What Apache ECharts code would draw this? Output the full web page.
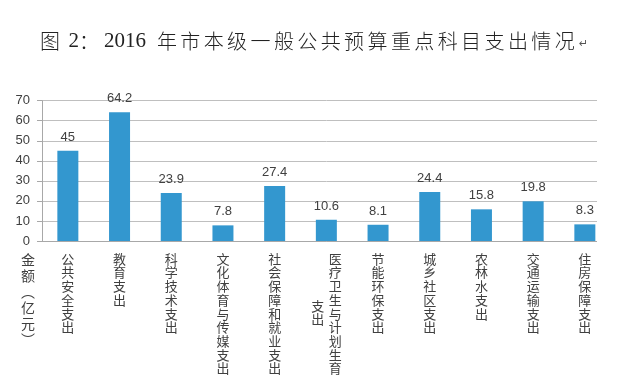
<!DOCTYPE html>
<html><head><meta charset="utf-8">
<script src="https://cdn.jsdelivr.net/npm/echarts@6/dist/echarts.min.js"></script>
<style>html,body{margin:0;padding:0;background:#fff}#c{width:620px;height:392px}</style>
</head><body><div id="c"></div>
<script>
const titleText = '图 2：2016 年市本级一般公共预算重点科目支出情况';
const categories = ['公共安全支出', '教育支出', '科学技术支出', '文化体育与传媒支出', '社会保障和就业支出',
  '医疗卫生与计划生育支出', '节能环保支出', '城乡社区支出', '农林水支出', '交通运输支出', '住房保障支出'];
const values = [45, 64.2, 23.9, 7.8, 27.4, 10.6, 8.1, 24.4, 15.8, 19.8, 8.3];
const yMin = 0, yMax = 70, yInterval = 10;
const yName = ['金', '额', '︵', '亿', '元', '︶'];
const MAXCOL = 9;

function buildTitle(t) {
  let out = '';
  let i = 0;
  while (i < t.length) {
    const ch = t[i];
    if (/[0-9]/.test(ch)) {
      let j = i; while (j < t.length && /[0-9]/.test(t[j])) j++;
      out += '{d|' + t.slice(i, j) + '}';
      i = j; continue;
    }
    if (ch === ' ') {
      out += /[0-9]/.test(t[i - 1]) ? '{sb| }' : '{sa| }';
    } else if (ch === '：') {
      out += '{p|：}';
    } else {
      out += '{c|' + ch + '}';
    }
    i++;
  }
  return out + '{r|↵}';
}

const CJK = "'Noto Sans CJK SC', sans-serif";
const LAT = "'Liberation Sans', 'Noto Sans CJK SC', sans-serif";
const SERIF = "'Liberation Serif', serif";

const chart = echarts.init(document.getElementById('c'));
chart.setOption({
  animation: false,
  backgroundColor: '#fff',
  textStyle: { fontFamily: LAT },
  title: {
    text: buildTitle(titleText),
    left: 40, top: 27, padding: 0,
    textStyle: {
      fontWeight: 'normal',
      rich: {
        c: { fontFamily: CJK, fontWeight: 300, fontSize: 20, width: 23.4, align: 'left', lineHeight: 28, color: '#222' },
        p: { fontFamily: CJK, fontWeight: 300, fontSize: 20, width: 25, align: 'left', lineHeight: 28, color: '#222' },
        d: { fontFamily: SERIF, fontWeight: 'normal', fontSize: 21, align: 'left', lineHeight: 28, color: '#222' },
        sa: { fontFamily: SERIF, fontWeight: 'normal', fontSize: 21, width: 5, align: 'left', lineHeight: 28 },
        sb: { fontFamily: SERIF, fontWeight: 'normal', fontSize: 21, width: 11, align: 'left', lineHeight: 28 },
        r: { fontFamily: "'DejaVu Sans', sans-serif", fontWeight: 'normal', fontSize: 11, align: 'left', lineHeight: 28, color: '#555', padding: [6, 0, 0, 1] }
      }
    }
  },
  grid: { left: 42, right: 9.3, top: 100.7, bottom: 151, containLabel: false, outerBoundsMode: 'none' },
  xAxis: [{
    type: 'category',
    data: categories,
    axisLine: { lineStyle: { color: '#A8A8A8' } },
    axisTick: { length: 5, lineStyle: { color: '#A8A8A8' } },
    axisLabel: {
      interval: 0, margin: 11, color: '#404040', fontFamily: CJK, fontSize: 13, lineHeight: 13.7,
      formatter: function (v) {
        const chars = v.split('');
        if (chars.length > MAXCOL + 1) {
          return '{m|' + chars.slice(0, MAXCOL).join('\n') + '}';
        }
        return chars.join('\n');
      },
      rich: { m: { fontFamily: CJK, fontSize: 13, lineHeight: 13.7, color: '#404040', padding: [0, 0, 0, 18] } }
    }
  }, {
    type: 'category',
    data: categories,
    position: 'bottom',
    axisLine: { show: false },
    axisTick: { show: false },
    axisLabel: {
      interval: 0, margin: 58, color: '#404040', fontFamily: CJK, fontSize: 13, lineHeight: 13.7,
      formatter: function (v) {
        const chars = v.split('');
        if (chars.length > MAXCOL + 1) {
          return '{z|' + chars.slice(MAXCOL).join('\n') + '}';
        }
        return '';
      },
      rich: { z: { fontFamily: CJK, fontSize: 13, lineHeight: 13.7, color: '#404040', padding: [0, 17, 0, 0] } }
    }
  }],
  yAxis: {
    type: 'value',
    min: yMin, max: yMax, interval: yInterval,
    axisLine: { show: true, lineStyle: { color: '#A8A8A8' } },
    axisTick: { show: true, length: 5, lineStyle: { color: '#A8A8A8' } },
    splitLine: { lineStyle: { color: '#BFBFBF' } },
    axisLabel: { margin: 12, fontSize: 13, color: '#404040' },
    name: yName.join('\n'),
    nameLocation: 'start',
    nameGap: 10.5,
    nameMoveOverlap: false,
    nameTextStyle: { fontFamily: CJK, fontSize: 14, lineHeight: 16, color: '#404040', align: 'center', verticalAlign: 'top', padding: [0, 28, 0, 0] }
  },
  series: [{
    type: 'bar',
    data: values,
    xAxisIndex: 0,
    barWidth: 21,
    itemStyle: { color: '#3397CF' },
    label: { show: true, position: 'top', distance: 7, fontSize: 13, color: '#404040' }
  }],
  graphic: [{
    type: 'rect', z: 100,
    shape: { x: 597, y: 90, width: 23, height: 160 },
    style: { fill: '#fff' }
  }]
});
</script></body></html>
